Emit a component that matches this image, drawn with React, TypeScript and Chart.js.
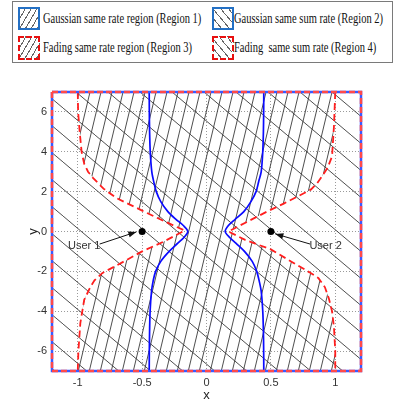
import React, { useEffect, useRef } from 'react';
import { Chart, registerables } from 'chart.js';

Chart.register(...registerables);

// ---- axes ----
const xTicks = [-1, -0.5, 0, 0.5, 1];
const yTicks = [-6, -4, -2, 0, 2, 4, 6];
const xLimits = [-1.2, 1.2];
const yLimits = [-7, 7];

// ---- Gaussian same rate region boundaries (blue, solid) ----
const blueY = [7, 6, 5, 4, 3, 2.5, 2, 1.5, 1, 0.6, 0.3, 0, -0.3, -0.6, -1, -1.5, -2, -2.5, -3, -4, -5, -6, -7];
const blueLeftX = [-0.445, -0.444, -0.442, -0.437, -0.425, -0.41, -0.39, -0.355, -0.3, -0.235, -0.18, -0.145, -0.175, -0.225, -0.29, -0.355, -0.395, -0.415, -0.427, -0.438, -0.442, -0.444, -0.445];
const blueRightX = [0.445, 0.444, 0.442, 0.437, 0.425, 0.405, 0.385, 0.345, 0.29, 0.22, 0.17, 0.145, 0.18, 0.23, 0.295, 0.355, 0.39, 0.41, 0.425, 0.437, 0.442, 0.444, 0.445];

// ---- Fading same rate region boundaries (red, dashed) ----
const redLeftX = [-1.0, -0.997, -0.985, -0.97, -0.95, -0.92, -0.88, -0.8, -0.7, -0.5, -0.34, -0.17, -0.33, -0.5, -0.64, -0.81, -0.87, -0.9, -0.95, -0.98, -0.995, -1.0];
const redLeftY = [7, 6, 5, 4, 3.4, 3.0, 2.68, 2.15, 1.68, 1.05, 0.55, 0.05, -0.5, -1.0, -1.5, -2.09, -2.45, -2.76, -3.43, -4.6, -6, -7];
const redRightX = [1.0, 0.99, 0.975, 0.94, 0.9, 0.86, 0.81, 0.72, 0.6, 0.47, 0.32, 0.17, 0.3, 0.5, 0.68, 0.8, 0.87, 0.92, 0.95, 0.975, 0.99, 1.0, 1.0];
const redRightY = [7, 5.28, 3.77, 3.19, 2.8, 2.43, 2.1, 1.8, 1.4, 1.0, 0.5, 0.0, -0.42, -0.9, -1.59, -2.05, -2.34, -2.8, -3.35, -4.0, -4.8, -6, -7];

// ---- users ----
const userX = [-0.5, 0.5];
const userY = [0, 0];
const userNames = ['User 1', 'User 2'];
const userLabelX = [-0.95, 0.925];
const userLabelY = [-0.72, -0.72];
const arrowTailX = [-0.83, 0.805];
const arrowTailY = [-0.63, -0.63];
const arrowHeadX = [-0.545, 0.535];
const arrowHeadY = [-0.02, -0.12];

// ---- legend ----
const legendNames = [
  'Gaussian same rate region (Region 1)',
  'Gaussian same sum rate (Region 2)',
  'Fading same rate region (Region 3)',
  'Fading  same sum rate (Region 4)',
];

const pts = (xs: number[], ys: number[]) => xs.map((x, i) => ({ x, y: ys[i] }));

function makeHatch(ctx: CanvasRenderingContext2D, w: number, h: number, forward: boolean, tx: number) {
  const c = document.createElement('canvas');
  c.width = w;
  c.height = h;
  const g = c.getContext('2d')!;
  g.strokeStyle = '#3a3a3a';
  g.lineWidth = 0.9;
  g.beginPath();
  for (const off of [-w, 0, w]) {
    if (forward) {
      g.moveTo(off, h);
      g.lineTo(off + w, 0);
    } else {
      g.moveTo(off, 0);
      g.lineTo(off + w, h);
    }
  }
  g.stroke();
  const p = ctx.createPattern(c, 'repeat')!;
  p.setTransform(new DOMMatrix([1, 0, 0, 1, tx, 0]));
  return p;
}

const BLUE = '#0a0aff';
const RED = '#ff1e1e';
const TICK_FONT = { family: '"Liberation Sans Narrow", "Liberation Sans", Arial, sans-serif', size: 11 };

const annotationPlugin = {
  id: 'userAnnotations',
  afterDatasetsDraw(chart: any) {
    const { ctx, scales } = chart;
    const xs = scales.x;
    const ys = scales.y;
    ctx.save();
    userNames.forEach((name, i) => {
      const tx = xs.getPixelForValue(arrowTailX[i]);
      const ty = ys.getPixelForValue(arrowTailY[i]);
      const hx = xs.getPixelForValue(arrowHeadX[i]);
      const hy = ys.getPixelForValue(arrowHeadY[i]);
      ctx.strokeStyle = '#111';
      ctx.lineWidth = 1;
      ctx.beginPath();
      ctx.moveTo(tx, ty);
      ctx.lineTo(hx, hy);
      ctx.stroke();
      const a = Math.atan2(hy - ty, hx - tx);
      const L = 8;
      const W = 3;
      ctx.beginPath();
      ctx.moveTo(hx, hy);
      ctx.lineTo(hx - L * Math.cos(a) + W * Math.sin(a), hy - L * Math.sin(a) - W * Math.cos(a));
      ctx.lineTo(hx - L * Math.cos(a) - W * Math.sin(a), hy - L * Math.sin(a) + W * Math.cos(a));
      ctx.closePath();
      ctx.fillStyle = '#111';
      ctx.fill();
      ctx.font = '11px "Liberation Sans Narrow", "Liberation Sans", Arial, sans-serif';
      ctx.textAlign = 'center';
      ctx.textBaseline = 'middle';
      ctx.fillStyle = '#333';
      ctx.fillText(name, xs.getPixelForValue(userLabelX[i]), ys.getPixelForValue(userLabelY[i]));
    });
    ctx.restore();
  },
};

function Legend() {
  const fwd = 'repeating-linear-gradient(120deg, rgba(0,0,0,0) 0px, rgba(0,0,0,0) 4px, #666 4px, #666 5px)';
  const back = 'repeating-linear-gradient(50deg, rgba(0,0,0,0) 0px, rgba(0,0,0,0) 5px, #666 5px, #666 6px)';
  const icons = [
    { left: 5, top: 5, h: 23, border: '2px solid #2470c4', bg: fwd },
    { left: 199, top: 5, h: 23, border: '2px solid #2470c4', bg: back },
    { left: 5, top: 34, h: 24, border: '2px dashed #e81010', bg: fwd },
    { left: 199, top: 34, h: 24, border: '2px dashed #e81010', bg: back },
  ];
  const texts = [
    { left: 30, cy: 17 },
    { left: 221, cy: 17 },
    { left: 30, cy: 46 },
    { left: 221, cy: 46 },
  ];
  return (
    <div
      style={{
        position: 'absolute',
        left: 12,
        top: 1,
        width: 381,
        height: 62,
        boxSizing: 'border-box',
        border: '1px solid #7a7a7a',
        background: '#fff',
      }}
    >
      {icons.map((ic, i) => (
        <div
          key={'i' + i}
          style={{
            position: 'absolute',
            left: ic.left,
            top: ic.top,
            width: 22,
            height: ic.h,
            boxSizing: 'border-box',
            border: ic.border,
            background: ic.bg,
          }}
        />
      ))}
      {legendNames.map((t, i) => (
        <span
          key={'t' + i}
          style={{
            position: 'absolute',
            left: texts[i].left,
            top: texts[i].cy - 8,
            lineHeight: '16px',
            fontSize: 14,
            fontFamily: '"Liberation Serif", "Times New Roman", serif',
            whiteSpace: 'pre',
            color: '#111',
            transform: 'scaleX(0.75)',
            transformOrigin: '0 50%',
          }}
        >
          {t}
        </span>
      ))}
    </div>
  );
}

export default function App() {
  const ref = useRef<HTMLCanvasElement>(null);
  useEffect(() => {
    const canvas = ref.current!;
    const ctx = canvas.getContext('2d')!;
    const hatchFwd = makeHatch(ctx, 11, 46, true, 1.95);
    const hatchBack = makeHatch(ctx, 32, 27, false, 31);

    const rect = pts(
      [xLimits[0], xLimits[1], xLimits[1], xLimits[0], xLimits[0]],
      [yLimits[1], yLimits[1], yLimits[0], yLimits[0], yLimits[1]]
    );
    const region3 = [...pts(redLeftX, redLeftY), ...pts(redRightX, redRightY).reverse()];

    const base = { pointRadius: 0, pointHoverRadius: 0, tension: 0 };

    const chart = new Chart(canvas, {
      type: 'line',
      data: {
        datasets: [
          { ...base, data: rect, fill: 'shape', backgroundColor: hatchBack, borderWidth: 0, order: 10 } as any,
          { ...base, data: region3, fill: 'shape', backgroundColor: hatchFwd, borderWidth: 0, order: 9 } as any,
          { ...base, data: pts(blueLeftX, blueY), borderColor: BLUE, borderWidth: 1.7, fill: false, tension: 0.3, order: 6 },
          { ...base, data: pts(blueRightX, blueY), borderColor: BLUE, borderWidth: 1.7, fill: false, tension: 0.3, order: 6 },
          { ...base, data: pts(redLeftX, redLeftY), borderColor: RED, borderWidth: 1.8, borderDash: [7, 4], fill: false, order: 5 },
          { ...base, data: pts(redRightX, redRightY), borderColor: RED, borderWidth: 1.8, borderDash: [7, 4], fill: false, order: 5 },
          { ...base, data: rect, borderColor: '#3a5aff', borderWidth: 2.5, fill: false, clip: 5, order: 4 } as any,
          { ...base, data: rect, borderColor: '#ff4a4a', borderWidth: 2.5, borderDash: [6, 3], fill: false, clip: 5, order: 3 } as any,
          {
            data: pts(userX, userY),
            showLine: false,
            pointRadius: 3.5,
            pointBackgroundColor: '#000',
            pointBorderColor: '#000',
            pointBorderWidth: 0,
            order: 1,
          },
        ],
      },
      options: {
        animation: false,
        responsive: false,
        maintainAspectRatio: false,
        events: [],
        layout: { padding: { left: 0, right: 38, top: 92, bottom: 5 } },
        plugins: { legend: { display: false }, tooltip: { enabled: false } },
        scales: {
          x: {
            type: 'linear',
            min: xLimits[0],
            max: xLimits[1],
            afterBuildTicks: (s: any) => {
              s.ticks = xTicks.map((v) => ({ value: v }));
            },
            afterFit: (s: any) => {
              s.height = 32;
            },
            grid: { color: '#9a9a9a', lineWidth: 1, drawTicks: false },
            border: { display: false, dash: [1, 2] },
            ticks: {
              color: '#333',
              font: TICK_FONT,
              padding: 5,
              maxRotation: 0,
              callback: (v: any) => String(v),
            },
            title: {
              display: true,
              text: 'x',
              color: '#222',
              font: { family: '"Liberation Sans", Arial, sans-serif', size: 13 },
              padding: { top: 0, bottom: 0 },
            },
          },
          y: {
            type: 'linear',
            min: yLimits[0],
            max: yLimits[1],
            afterBuildTicks: (s: any) => {
              s.ticks = yTicks.map((v) => ({ value: v }));
            },
            afterFit: (s: any) => {
              s.width = 52;
            },
            grid: { color: '#9a9a9a', lineWidth: 1, drawTicks: false },
            border: { display: false, dash: [1, 2] },
            ticks: {
              color: '#333',
              font: TICK_FONT,
              padding: 5,
              callback: (v: any) => String(v),
            },
            title: {
              display: true,
              text: 'y',
              color: '#222',
              font: { family: '"Liberation Sans", Arial, sans-serif', size: 13 },
              padding: { top: 26, bottom: 0 },
            },
          },
        },
      },
      plugins: [annotationPlugin],
    } as any);
    return () => chart.destroy();
  }, []);

  return (
    <div style={{ position: 'absolute', left: 0, top: 0, width: 399, height: 408, background: '#fff' }}>
      <canvas
        ref={ref}
        width={399}
        height={408}
        style={{ position: 'absolute', left: 0, top: 0, width: 399, height: 408 }}
      />
      <Legend />
    </div>
  );
}
